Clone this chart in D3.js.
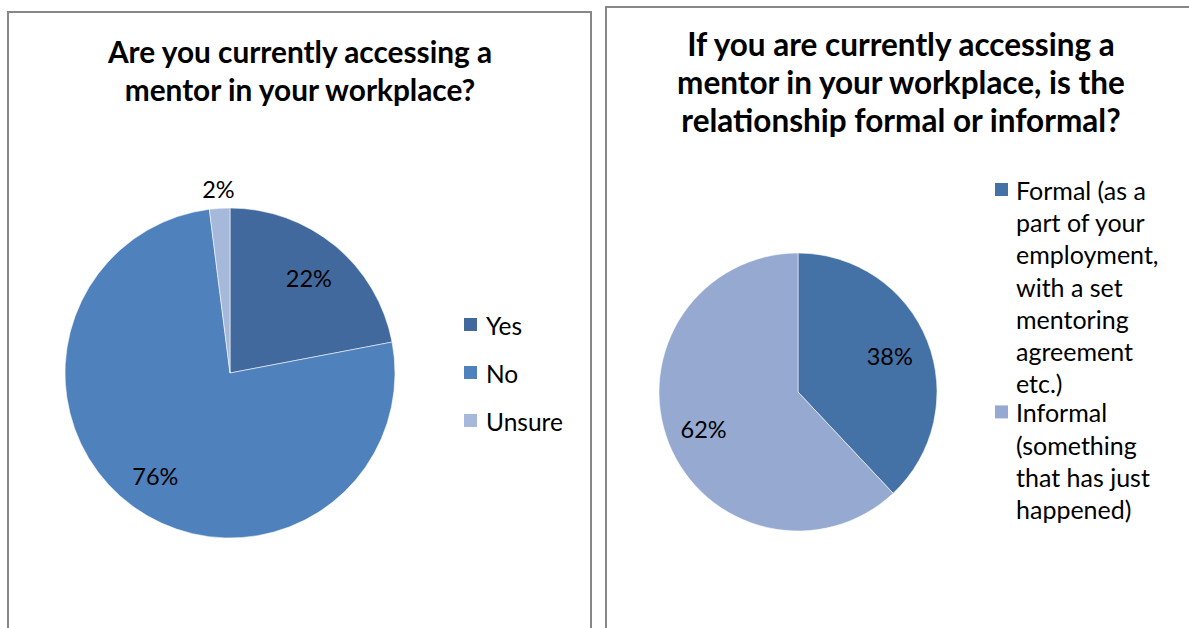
<!DOCTYPE html>
<html>
<head>
<meta charset="utf-8">
<script src="https://cdn.jsdelivr.net/npm/d3@7"></script>
<style>
  html, body { margin: 0; padding: 0; background: #fff; }
  svg { display: block; font-family: Lato, "Open Sans", sans-serif; }
</style>
</head>
<body>
<svg id="chart" width="1189" height="628"></svg>
<script>
// Survey question 1
const accessCategories = ["Yes", "No", "Unsure"];
const accessValues = [22, 76, 2];
const accessColors = ["#41699E", "#4F81BD", "#A7B9DB"];
const accessTitle = ["Are you currently accessing a", "mentor in your workplace?"];

// Survey question 2
const relationCategories = [
  ["Formal (as a", "part of your", "employment,", "with a set", "mentoring", "agreement", "etc.)"],
  ["Informal", "(something", "that has just", "happened)"]
];
const relationValues = [38, 62];
const relationColors = ["#4472A6", "#95A9D1"];
const relationTitle = ["If you are currently accessing a", "mentor in your workplace, is the", "relationship formal or informal?"];

const svg = d3.select("#chart");

// Panel frames
svg.append("rect").attr("x", 8).attr("y", 12).attr("width", 583).attr("height", 640)
  .attr("fill", "none").attr("stroke", "#878787").attr("stroke-width", 2);
svg.append("rect").attr("x", 606).attr("y", 7).attr("width", 600).attr("height", 650)
  .attr("fill", "none").attr("stroke", "#878787").attr("stroke-width", 2);

function drawPie(cfg) {
  const g = svg.append("g").attr("transform", `translate(${cfg.cx},${cfg.cy})`);
  const pie = d3.pie().sort(null).value(d => d)(cfg.values);
  const arc = d3.arc().innerRadius(0).outerRadius(cfg.r);
  g.selectAll("path").data(pie).join("path")
    .attr("d", arc)
    .attr("fill", (d, i) => cfg.colors[i])
    .attr("stroke", "rgba(255,255,255,0.55)")
    .attr("stroke-width", 1);
  const mid = d => (d.startAngle + d.endAngle) / 2;
  g.selectAll("text.pct").data(pie).join("text")
    .attr("class", "pct")
    .attr("x", (d, i) => Math.sin(mid(d)) * cfg.r * cfg.labelK[i])
    .attr("y", (d, i) => -Math.cos(mid(d)) * cfg.r * cfg.labelK[i])
    .attr("text-anchor", "middle")
    .attr("dominant-baseline", "central")
    .attr("font-size", 23.5)
    .attr("fill", "#000")
    .text(d => d.data + "%");
}

function drawTitle(lines, cx, y0, lh, fs) {
  svg.append("g").selectAll("text").data(lines).join("text")
    .attr("x", cx).attr("y", (d, i) => y0 + i * lh)
    .attr("text-anchor", "middle")
    .attr("font-size", fs).attr("font-weight", "bold").attr("fill", "#000")
    .text(d => d);
}

// Left chart
drawTitle(accessTitle, 300, 63, 38, 29.8);
drawPie({ cx: 230, cy: 373, r: 165, values: accessValues, colors: accessColors, labelK: [0.75, 0.77, 1.12] });

// Left legend
const legL = svg.append("g").attr("transform", "translate(464,325)");
accessCategories.forEach((c, i) => {
  const row = legL.append("g").attr("transform", `translate(0,${i * 48})`);
  row.append("rect").attr("x", 0).attr("y", -7).attr("width", 13).attr("height", 13).attr("fill", accessColors[i]);
  row.append("text").attr("x", 22).attr("y", 0).attr("dominant-baseline", "central")
    .attr("font-size", 24.5).attr("fill", "#000").text(c);
});

// Right chart
drawTitle(relationTitle, 901, 56, 38, 31.5);
drawPie({ cx: 798, cy: 392, r: 139, values: relationValues, colors: relationColors, labelK: [0.71, 0.73] });

// Right legend
const legR = svg.append("g").attr("transform", "translate(995,190)");
let yy = 0;
relationCategories.forEach((lines, i) => {
  legR.append("rect").attr("x", 0).attr("y", yy - 7).attr("width", 13).attr("height", 13).attr("fill", relationColors[i]);
  lines.forEach((t, j) => {
    legR.append("text").attr("x", 21).attr("y", yy + j * 32.2).attr("dominant-baseline", "central")
      .attr("font-size", 25).attr("fill", "#000").text(t);
  });
  yy += lines.length * 32.2 - 3;
});
</script>
</body>
</html>
